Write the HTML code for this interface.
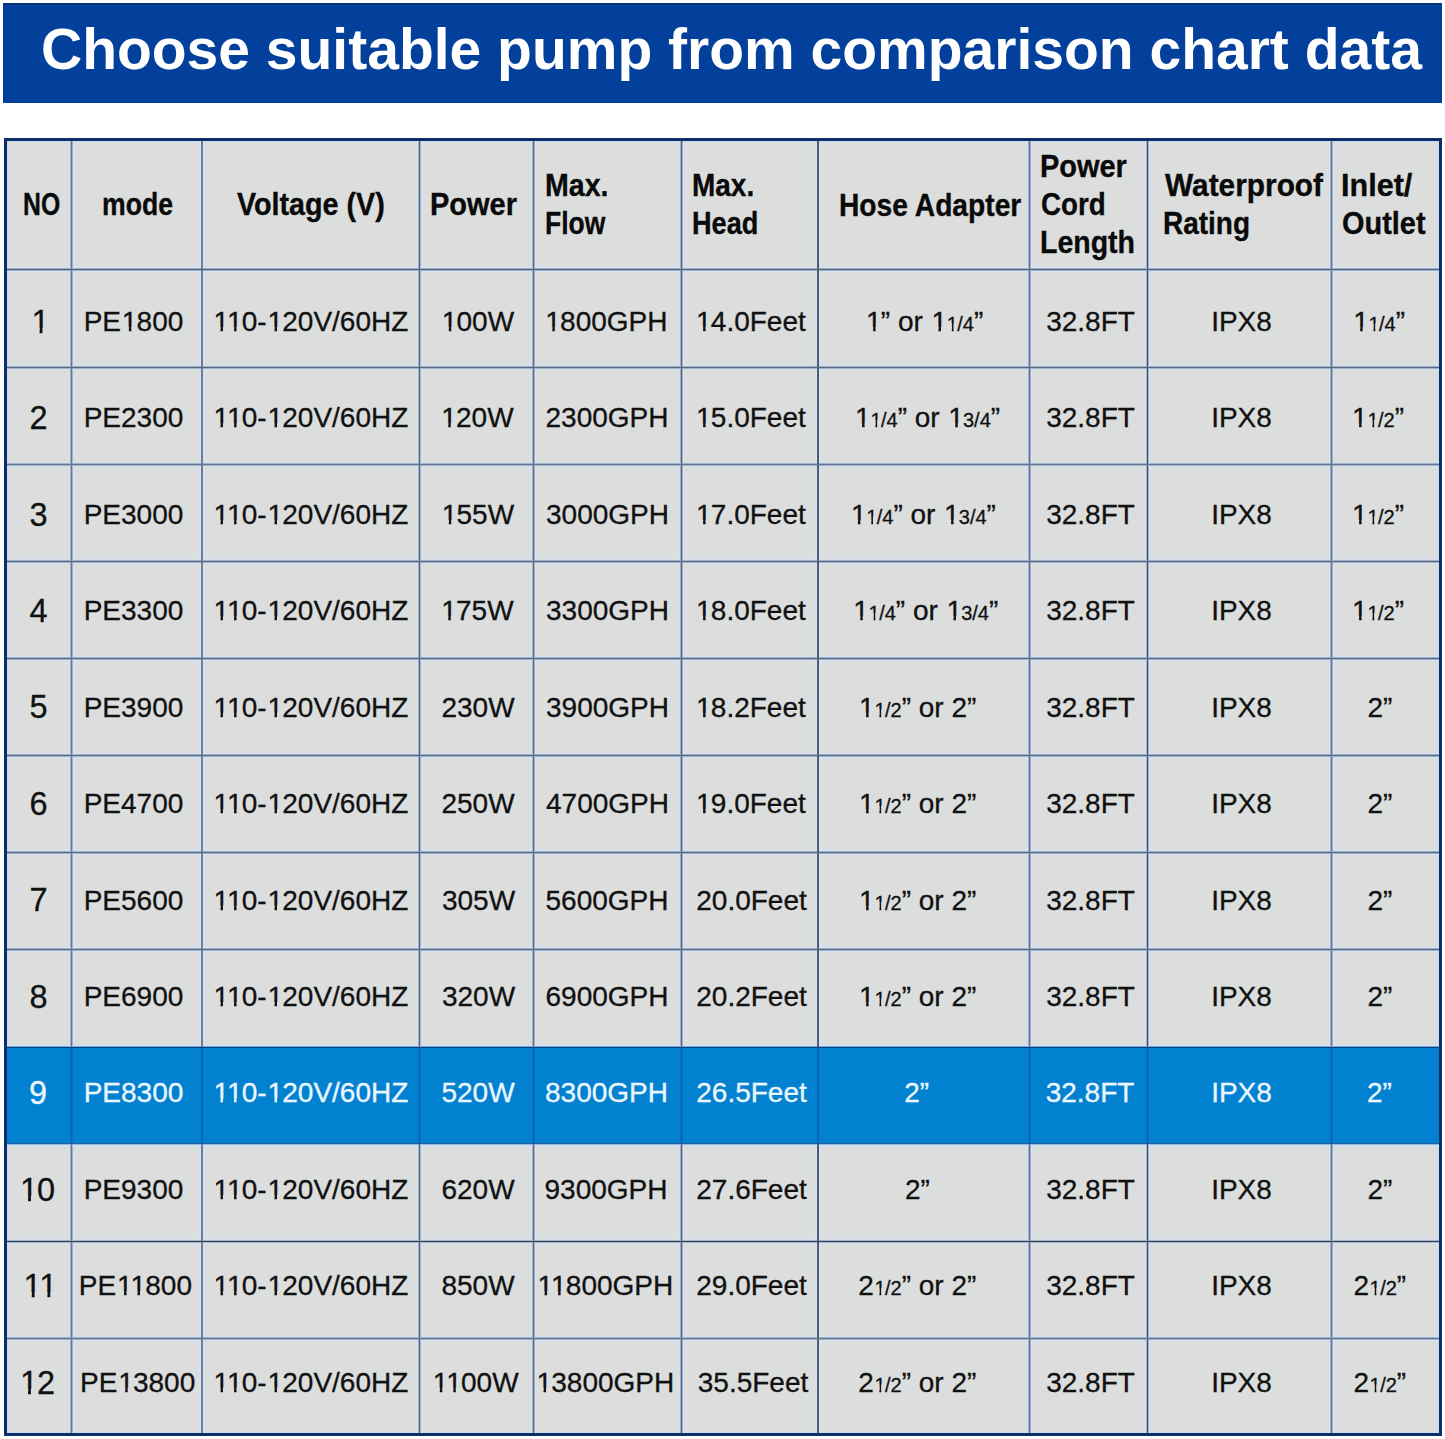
<!DOCTYPE html>
<html><head><meta charset="utf-8"><style>
html,body{margin:0;padding:0}
body{width:1445px;height:1439px;position:relative;overflow:hidden;background:#fefffe;font-family:"Liberation Sans",sans-serif}
.a{position:absolute}
.banner{left:3px;top:3px;width:1439px;height:100px;background:#03409c;box-shadow:inset 0 2px 0 #06337a,inset 1px 0 0 #0c3a80}
.title{left:0;width:1445px;top:16px;font-weight:bold;font-size:57px;line-height:66px;color:#fff;white-space:nowrap}
.tbl{left:4px;top:138px;width:1438px;height:1298px;background:#dcdedd;box-sizing:border-box;border:3px solid #0f2f69;box-shadow:inset 0 0 0 1px #c8dbf3}
.hl{background:#0381d1}
.vl{width:5px;background:linear-gradient(to right,#d3dfeb 0,#d3dfeb 1px,#9ba9bb 1px,#9ba9bb 2px,#5e6b80 2px,#5e6b80 3px,#a3b1c3 3px,#a3b1c3 4px,#dae5f1 4px)}
.hln{height:5px;background:linear-gradient(to bottom,#d3deea 0,#d3deea 1px,#a8b3c3 1px,#a8b3c3 2px,#56637a 2px,#56637a 3px,#a9b3c3 3px,#a9b3c3 4px,#d9e1ea 4px)}
.c{text-align:center;white-space:nowrap;font-size:28px;line-height:28px;color:#111;-webkit-text-stroke:0.3px #111}
.no{font-size:32.5px;line-height:32.5px}
.sm{font-size:20px}
.k{margin-right:-0.0742em}
.w{color:#eaf7ff;-webkit-text-stroke-color:#eaf7ff}
.o{display:inline-block;position:relative;left:0.03em;clip-path:polygon(0 0,100% 0,100% 0.68em,0.3398em 0.68em,0.3398em 100%,0.2515em 100%,0.2515em 0.68em,0 0.68em)}
.h{font-weight:bold;font-size:31.5px;line-height:31.5px;color:#0a0a0a;white-space:nowrap;transform-origin:0 0;-webkit-text-stroke:0.35px #0a0a0a}
</style></head><body>

<div class="a banner"></div>
<div class="a title"><span style="position:absolute;left:41px">Choose suitable pump from comparison chart data</span></div>
<div class="a tbl"></div>
<div class="a" style="left:7px;top:267px;width:1432px;height:5px;background:#d5e2f4"></div>
<div class="a" style="left:7px;top:365px;width:1432px;height:5px;background:#d5e2f4"></div>
<div class="a" style="left:7px;top:462px;width:1432px;height:5px;background:#d5e2f4"></div>
<div class="a" style="left:7px;top:559px;width:1432px;height:5px;background:#d5e2f4"></div>
<div class="a" style="left:7px;top:656px;width:1432px;height:5px;background:#d5e2f4"></div>
<div class="a" style="left:7px;top:753px;width:1432px;height:5px;background:#d5e2f4"></div>
<div class="a" style="left:7px;top:850px;width:1432px;height:5px;background:#d5e2f4"></div>
<div class="a" style="left:7px;top:947px;width:1432px;height:5px;background:#d5e2f4"></div>
<div class="a" style="left:7px;top:1239px;width:1432px;height:5px;background:#d5e2f4"></div>
<div class="a" style="left:7px;top:1336px;width:1432px;height:5px;background:#d5e2f4"></div>
<div class="a" style="left:69px;top:141px;width:5px;height:906px;background:#d5e2f4"></div>
<div class="a" style="left:69px;top:1144px;width:5px;height:289px;background:#d5e2f4"></div>
<div class="a" style="left:199px;top:141px;width:6px;height:906px;background:#d5e2f4"></div>
<div class="a" style="left:199px;top:1144px;width:6px;height:289px;background:#d5e2f4"></div>
<div class="a" style="left:417px;top:141px;width:5px;height:906px;background:#d5e2f4"></div>
<div class="a" style="left:417px;top:1144px;width:5px;height:289px;background:#d5e2f4"></div>
<div class="a" style="left:531px;top:141px;width:5px;height:906px;background:#d5e2f4"></div>
<div class="a" style="left:531px;top:1144px;width:5px;height:289px;background:#d5e2f4"></div>
<div class="a" style="left:679px;top:141px;width:5px;height:906px;background:#d5e2f4"></div>
<div class="a" style="left:679px;top:1144px;width:5px;height:289px;background:#d5e2f4"></div>
<div class="a" style="left:815px;top:141px;width:6px;height:906px;background:#d5e2f4"></div>
<div class="a" style="left:815px;top:1144px;width:6px;height:289px;background:#d5e2f4"></div>
<div class="a" style="left:1027px;top:141px;width:5px;height:906px;background:#d5e2f4"></div>
<div class="a" style="left:1027px;top:1144px;width:5px;height:289px;background:#d5e2f4"></div>
<div class="a" style="left:1145px;top:141px;width:5px;height:906px;background:#d5e2f4"></div>
<div class="a" style="left:1145px;top:1144px;width:5px;height:289px;background:#d5e2f4"></div>
<div class="a" style="left:1329px;top:141px;width:5px;height:906px;background:#d5e2f4"></div>
<div class="a" style="left:1329px;top:1144px;width:5px;height:289px;background:#d5e2f4"></div>
<div class="a" style="left:7px;top:268px;width:1432px;height:3px;background:#a2b1ca"></div>
<div class="a" style="left:7px;top:366px;width:1432px;height:3px;background:#a2b1ca"></div>
<div class="a" style="left:7px;top:463px;width:1432px;height:3px;background:#a2b1ca"></div>
<div class="a" style="left:7px;top:560px;width:1432px;height:3px;background:#a2b1ca"></div>
<div class="a" style="left:7px;top:657px;width:1432px;height:3px;background:#a2b1ca"></div>
<div class="a" style="left:7px;top:754px;width:1432px;height:3px;background:#a2b1ca"></div>
<div class="a" style="left:7px;top:851px;width:1432px;height:3px;background:#a2b1ca"></div>
<div class="a" style="left:7px;top:948px;width:1432px;height:3px;background:#a2b1ca"></div>
<div class="a" style="left:7px;top:1240px;width:1432px;height:3px;background:#a2b1ca"></div>
<div class="a" style="left:7px;top:1337px;width:1432px;height:3px;background:#a2b1ca"></div>
<div class="a" style="left:7px;top:1045px;width:1432px;height:1px;background:#cfe6f8"></div>
<div class="a" style="left:7px;top:1046px;width:1432px;height:1px;background:#7aa8d6"></div>
<div class="a" style="left:7px;top:1047px;width:1432px;height:1px;background:#05427f"></div>
<div class="a hl" style="left:7px;top:1048px;width:1432px;height:95px"></div>
<div class="a" style="left:7px;top:1143px;width:1432px;height:1px;background:#1f5f9c"></div>
<div class="a" style="left:7px;top:1144px;width:1432px;height:1px;background:#8fb9e0"></div>
<div class="a" style="left:7px;top:1145px;width:1432px;height:1px;background:#cfe3f5"></div>
<div class="a" style="left:70px;top:141px;width:3px;height:906px;background:linear-gradient(to right,#a2b1ca 0,#a2b1ca 1px,#6a788c 1px,#6a788c 2px,#a2b1ca 2px)"></div>
<div class="a" style="left:70px;top:1144px;width:3px;height:289px;background:linear-gradient(to right,#a2b1ca 0,#a2b1ca 1px,#6a788c 1px,#6a788c 2px,#a2b1ca 2px)"></div>
<div class="a" style="left:70px;top:1048px;width:3px;height:95px;background:linear-gradient(to right,#0572c8 0,#0572c8 1px,#0560b8 1px,#0560b8 2px,#0572c8 2px)"></div>
<div class="a" style="left:201px;top:141px;width:2px;height:906px;background:linear-gradient(to right,#6e7d8f 0,#6e7d8f 1px,#6e7d8f 1px)"></div>
<div class="a" style="left:201px;top:1144px;width:2px;height:289px;background:linear-gradient(to right,#6e7d8f 0,#6e7d8f 1px,#6e7d8f 1px)"></div>
<div class="a" style="left:201px;top:1048px;width:2px;height:95px;background:#0565bc"></div>
<div class="a" style="left:418px;top:141px;width:3px;height:906px;background:linear-gradient(to right,#a2b1ca 0,#a2b1ca 1px,#5a6878 1px,#5a6878 2px,#a2b1ca 2px)"></div>
<div class="a" style="left:418px;top:1144px;width:3px;height:289px;background:linear-gradient(to right,#a2b1ca 0,#a2b1ca 1px,#5a6878 1px,#5a6878 2px,#a2b1ca 2px)"></div>
<div class="a" style="left:418px;top:1048px;width:3px;height:95px;background:linear-gradient(to right,#0572c8 0,#0572c8 1px,#0560b8 1px,#0560b8 2px,#0572c8 2px)"></div>
<div class="a" style="left:532px;top:141px;width:3px;height:906px;background:linear-gradient(to right,#a2b1ca 0,#a2b1ca 1px,#5f6d7c 1px,#5f6d7c 2px,#a2b1ca 2px)"></div>
<div class="a" style="left:532px;top:1144px;width:3px;height:289px;background:linear-gradient(to right,#a2b1ca 0,#a2b1ca 1px,#5f6d7c 1px,#5f6d7c 2px,#a2b1ca 2px)"></div>
<div class="a" style="left:532px;top:1048px;width:3px;height:95px;background:linear-gradient(to right,#0572c8 0,#0572c8 1px,#0560b8 1px,#0560b8 2px,#0572c8 2px)"></div>
<div class="a" style="left:680px;top:141px;width:3px;height:906px;background:linear-gradient(to right,#a2b1ca 0,#a2b1ca 1px,#55617a 1px,#55617a 2px,#a2b1ca 2px)"></div>
<div class="a" style="left:680px;top:1144px;width:3px;height:289px;background:linear-gradient(to right,#a2b1ca 0,#a2b1ca 1px,#55617a 1px,#55617a 2px,#a2b1ca 2px)"></div>
<div class="a" style="left:680px;top:1048px;width:3px;height:95px;background:linear-gradient(to right,#0572c8 0,#0572c8 1px,#0560b8 1px,#0560b8 2px,#0572c8 2px)"></div>
<div class="a" style="left:817px;top:141px;width:2px;height:906px;background:linear-gradient(to right,#4e5c6e 0,#4e5c6e 1px,#4e5c6e 1px)"></div>
<div class="a" style="left:817px;top:1144px;width:2px;height:289px;background:linear-gradient(to right,#4e5c6e 0,#4e5c6e 1px,#4e5c6e 1px)"></div>
<div class="a" style="left:817px;top:1048px;width:2px;height:95px;background:#0565bc"></div>
<div class="a" style="left:1028px;top:141px;width:3px;height:906px;background:linear-gradient(to right,#a2b1ca 0,#a2b1ca 1px,#63728a 1px,#63728a 2px,#a2b1ca 2px)"></div>
<div class="a" style="left:1028px;top:1144px;width:3px;height:289px;background:linear-gradient(to right,#a2b1ca 0,#a2b1ca 1px,#63728a 1px,#63728a 2px,#a2b1ca 2px)"></div>
<div class="a" style="left:1028px;top:1048px;width:3px;height:95px;background:linear-gradient(to right,#0572c8 0,#0572c8 1px,#0560b8 1px,#0560b8 2px,#0572c8 2px)"></div>
<div class="a" style="left:1146px;top:141px;width:3px;height:906px;background:linear-gradient(to right,#a2b1ca 0,#a2b1ca 1px,#44526a 1px,#44526a 2px,#a2b1ca 2px)"></div>
<div class="a" style="left:1146px;top:1144px;width:3px;height:289px;background:linear-gradient(to right,#a2b1ca 0,#a2b1ca 1px,#44526a 1px,#44526a 2px,#a2b1ca 2px)"></div>
<div class="a" style="left:1146px;top:1048px;width:3px;height:95px;background:linear-gradient(to right,#0572c8 0,#0572c8 1px,#0560b8 1px,#0560b8 2px,#0572c8 2px)"></div>
<div class="a" style="left:1330px;top:141px;width:3px;height:906px;background:linear-gradient(to right,#a2b1ca 0,#a2b1ca 1px,#677588 1px,#677588 2px,#a2b1ca 2px)"></div>
<div class="a" style="left:1330px;top:1144px;width:3px;height:289px;background:linear-gradient(to right,#a2b1ca 0,#a2b1ca 1px,#677588 1px,#677588 2px,#a2b1ca 2px)"></div>
<div class="a" style="left:1330px;top:1048px;width:3px;height:95px;background:linear-gradient(to right,#0572c8 0,#0572c8 1px,#0560b8 1px,#0560b8 2px,#0572c8 2px)"></div>
<div class="a" style="left:7px;top:269px;width:1432px;height:1px;background:#556276"></div>
<div class="a" style="left:7px;top:367px;width:1432px;height:1px;background:#5a687e"></div>
<div class="a" style="left:7px;top:464px;width:1432px;height:1px;background:#66768e"></div>
<div class="a" style="left:7px;top:561px;width:1432px;height:1px;background:#5a687e"></div>
<div class="a" style="left:7px;top:658px;width:1432px;height:1px;background:#5a687e"></div>
<div class="a" style="left:7px;top:755px;width:1432px;height:1px;background:#5a687e"></div>
<div class="a" style="left:7px;top:852px;width:1432px;height:1px;background:#5a687e"></div>
<div class="a" style="left:7px;top:949px;width:1432px;height:1px;background:#5a6880"></div>
<div class="a" style="left:7px;top:1241px;width:1432px;height:1px;background:#3a4658"></div>
<div class="a" style="left:7px;top:1338px;width:1432px;height:1px;background:#6a788c"></div>
<div class="a h" style="left:22.83px;top:189.0px;transform:scaleX(0.7864)">NO</div>
<div class="a h" style="left:101.91px;top:189.0px;transform:scaleX(0.8444)">mode</div>
<div class="a h" style="left:237.00px;top:189.0px;transform:scaleX(0.9112)">Voltage (V)</div>
<div class="a h" style="left:430.16px;top:189.0px;transform:scaleX(0.9196)">Power</div>
<div class="a h" style="left:545.19px;top:170.3px;transform:scaleX(0.9061)">Max.</div>
<div class="a h" style="left:545.32px;top:208.3px;transform:scaleX(0.8400)">Flow</div>
<div class="a h" style="left:691.62px;top:170.3px;transform:scaleX(0.8879)">Max.</div>
<div class="a h" style="left:691.68px;top:208.3px;transform:scaleX(0.8616)">Head</div>
<div class="a h" style="left:838.51px;top:189.5px;transform:scaleX(0.8955)">Hose Adapter</div>
<div class="a h" style="left:1039.56px;top:151.2px;transform:scaleX(0.9185)">Power</div>
<div class="a h" style="left:1040.52px;top:188.5px;transform:scaleX(0.8800)">Cord</div>
<div class="a h" style="left:1039.59px;top:227.4px;transform:scaleX(0.9050)">Length</div>
<div class="a h" style="left:1164.50px;top:169.9px;transform:scaleX(0.9473)">Waterproof</div>
<div class="a h" style="left:1162.72px;top:208.3px;transform:scaleX(0.8883)">Rating</div>
<div class="a h" style="left:1341.36px;top:170.1px;transform:scaleX(0.9704)">Inlet/</div>
<div class="a h" style="left:1342.38px;top:207.9px;transform:scaleX(0.9178)">Outlet</div>
<div class="a c no" style="left:-110.50px;width:300px;top:305.6px"><span class="o">1</span></div>
<div class="a c" style="left:-16.50px;width:300px;top:307.8px">PE<span class="o">1</span>800</div>
<div class="a c" style="left:160.50px;width:300px;top:307.8px"><span class="o k">1</span><span class="o">1</span>0-<span class="o">1</span>20V/60HZ</div>
<div class="a c" style="left:327.50px;width:300px;top:307.8px"><span class="o">1</span>00W</div>
<div class="a c" style="left:456.00px;width:300px;top:307.8px"><span class="o">1</span>800GPH</div>
<div class="a c" style="left:600.50px;width:300px;top:307.8px"><span class="o">1</span>4.0Feet</div>
<div class="a c" style="left:774.30px;width:300px;top:307.8px"><span class="o">1</span>&#8221; or <span class="o">1</span><span class="sm"><span class="o">1</span>/4</span>&#8221;</div>
<div class="a c" style="left:940.50px;width:300px;top:307.8px">32.8FT</div>
<div class="a c" style="left:1091.50px;width:300px;top:307.8px">IPX8</div>
<div class="a c" style="left:1228.70px;width:300px;top:307.8px"><span class="o">1</span><span class="sm"><span class="o">1</span>/4</span>&#8221;</div>
<div class="a c no" style="left:-111.50px;width:300px;top:402.1px">2</div>
<div class="a c" style="left:-16.50px;width:300px;top:404.3px">PE2300</div>
<div class="a c" style="left:160.50px;width:300px;top:404.3px"><span class="o k">1</span><span class="o">1</span>0-<span class="o">1</span>20V/60HZ</div>
<div class="a c" style="left:327.00px;width:300px;top:404.3px"><span class="o">1</span>20W</div>
<div class="a c" style="left:457.00px;width:300px;top:404.3px">2300GPH</div>
<div class="a c" style="left:600.50px;width:300px;top:404.3px"><span class="o">1</span>5.0Feet</div>
<div class="a c" style="left:777.20px;width:300px;top:404.3px"><span class="o">1</span><span class="sm"><span class="o">1</span>/4</span>&#8221; or <span class="o">1</span><span class="sm">3/4</span>&#8221;</div>
<div class="a c" style="left:940.50px;width:300px;top:404.3px">32.8FT</div>
<div class="a c" style="left:1091.50px;width:300px;top:404.3px">IPX8</div>
<div class="a c" style="left:1227.60px;width:300px;top:404.3px"><span class="o">1</span><span class="sm"><span class="o">1</span>/2</span>&#8221;</div>
<div class="a c no" style="left:-111.50px;width:300px;top:498.5px">3</div>
<div class="a c" style="left:-16.50px;width:300px;top:500.7px">PE3000</div>
<div class="a c" style="left:160.50px;width:300px;top:500.7px"><span class="o k">1</span><span class="o">1</span>0-<span class="o">1</span>20V/60HZ</div>
<div class="a c" style="left:327.50px;width:300px;top:500.7px"><span class="o">1</span>55W</div>
<div class="a c" style="left:457.50px;width:300px;top:500.7px">3000GPH</div>
<div class="a c" style="left:600.50px;width:300px;top:500.7px"><span class="o">1</span>7.0Feet</div>
<div class="a c" style="left:773.00px;width:300px;top:500.7px"><span class="o">1</span><span class="sm"><span class="o">1</span>/4</span>&#8221; or <span class="o">1</span><span class="sm">3/4</span>&#8221;</div>
<div class="a c" style="left:940.50px;width:300px;top:500.7px">32.8FT</div>
<div class="a c" style="left:1091.50px;width:300px;top:500.7px">IPX8</div>
<div class="a c" style="left:1227.60px;width:300px;top:500.7px"><span class="o">1</span><span class="sm"><span class="o">1</span>/2</span>&#8221;</div>
<div class="a c no" style="left:-111.50px;width:300px;top:595.0px">4</div>
<div class="a c" style="left:-16.50px;width:300px;top:597.2px">PE3300</div>
<div class="a c" style="left:160.50px;width:300px;top:597.2px"><span class="o k">1</span><span class="o">1</span>0-<span class="o">1</span>20V/60HZ</div>
<div class="a c" style="left:327.00px;width:300px;top:597.2px"><span class="o">1</span>75W</div>
<div class="a c" style="left:457.50px;width:300px;top:597.2px">3300GPH</div>
<div class="a c" style="left:600.50px;width:300px;top:597.2px"><span class="o">1</span>8.0Feet</div>
<div class="a c" style="left:775.40px;width:300px;top:597.2px"><span class="o">1</span><span class="sm"><span class="o">1</span>/4</span>&#8221; or <span class="o">1</span><span class="sm">3/4</span>&#8221;</div>
<div class="a c" style="left:940.50px;width:300px;top:597.2px">32.8FT</div>
<div class="a c" style="left:1091.50px;width:300px;top:597.2px">IPX8</div>
<div class="a c" style="left:1227.60px;width:300px;top:597.2px"><span class="o">1</span><span class="sm"><span class="o">1</span>/2</span>&#8221;</div>
<div class="a c no" style="left:-111.50px;width:300px;top:691.4px">5</div>
<div class="a c" style="left:-16.50px;width:300px;top:693.6px">PE3900</div>
<div class="a c" style="left:160.50px;width:300px;top:693.6px"><span class="o k">1</span><span class="o">1</span>0-<span class="o">1</span>20V/60HZ</div>
<div class="a c" style="left:328.00px;width:300px;top:693.6px">230W</div>
<div class="a c" style="left:457.50px;width:300px;top:693.6px">3900GPH</div>
<div class="a c" style="left:600.50px;width:300px;top:693.6px"><span class="o">1</span>8.2Feet</div>
<div class="a c" style="left:767.30px;width:300px;top:693.6px"><span class="o">1</span><span class="sm"><span class="o">1</span>/2</span>&#8221; or 2&#8221;</div>
<div class="a c" style="left:940.50px;width:300px;top:693.6px">32.8FT</div>
<div class="a c" style="left:1091.50px;width:300px;top:693.6px">IPX8</div>
<div class="a c" style="left:1229.90px;width:300px;top:693.6px">2&#8221;</div>
<div class="a c no" style="left:-111.50px;width:300px;top:787.9px">6</div>
<div class="a c" style="left:-16.50px;width:300px;top:790.1px">PE4700</div>
<div class="a c" style="left:160.50px;width:300px;top:790.1px"><span class="o k">1</span><span class="o">1</span>0-<span class="o">1</span>20V/60HZ</div>
<div class="a c" style="left:328.00px;width:300px;top:790.1px">250W</div>
<div class="a c" style="left:457.50px;width:300px;top:790.1px">4700GPH</div>
<div class="a c" style="left:600.50px;width:300px;top:790.1px"><span class="o">1</span>9.0Feet</div>
<div class="a c" style="left:767.30px;width:300px;top:790.1px"><span class="o">1</span><span class="sm"><span class="o">1</span>/2</span>&#8221; or 2&#8221;</div>
<div class="a c" style="left:940.50px;width:300px;top:790.1px">32.8FT</div>
<div class="a c" style="left:1091.50px;width:300px;top:790.1px">IPX8</div>
<div class="a c" style="left:1229.90px;width:300px;top:790.1px">2&#8221;</div>
<div class="a c no" style="left:-111.50px;width:300px;top:884.3px">7</div>
<div class="a c" style="left:-16.50px;width:300px;top:886.5px">PE5600</div>
<div class="a c" style="left:160.50px;width:300px;top:886.5px"><span class="o k">1</span><span class="o">1</span>0-<span class="o">1</span>20V/60HZ</div>
<div class="a c" style="left:328.50px;width:300px;top:886.5px">305W</div>
<div class="a c" style="left:457.00px;width:300px;top:886.5px">5600GPH</div>
<div class="a c" style="left:601.50px;width:300px;top:886.5px">20.0Feet</div>
<div class="a c" style="left:767.30px;width:300px;top:886.5px"><span class="o">1</span><span class="sm"><span class="o">1</span>/2</span>&#8221; or 2&#8221;</div>
<div class="a c" style="left:940.50px;width:300px;top:886.5px">32.8FT</div>
<div class="a c" style="left:1091.50px;width:300px;top:886.5px">IPX8</div>
<div class="a c" style="left:1229.90px;width:300px;top:886.5px">2&#8221;</div>
<div class="a c no" style="left:-111.50px;width:300px;top:980.8px">8</div>
<div class="a c" style="left:-16.50px;width:300px;top:983.0px">PE6900</div>
<div class="a c" style="left:160.50px;width:300px;top:983.0px"><span class="o k">1</span><span class="o">1</span>0-<span class="o">1</span>20V/60HZ</div>
<div class="a c" style="left:328.50px;width:300px;top:983.0px">320W</div>
<div class="a c" style="left:457.00px;width:300px;top:983.0px">6900GPH</div>
<div class="a c" style="left:601.50px;width:300px;top:983.0px">20.2Feet</div>
<div class="a c" style="left:767.30px;width:300px;top:983.0px"><span class="o">1</span><span class="sm"><span class="o">1</span>/2</span>&#8221; or 2&#8221;</div>
<div class="a c" style="left:940.50px;width:300px;top:983.0px">32.8FT</div>
<div class="a c" style="left:1091.50px;width:300px;top:983.0px">IPX8</div>
<div class="a c" style="left:1229.90px;width:300px;top:983.0px">2&#8221;</div>
<div class="a c no w" style="left:-112.00px;width:300px;top:1077.2px">9</div>
<div class="a c w" style="left:-16.50px;width:300px;top:1079.4px">PE8300</div>
<div class="a c w" style="left:160.50px;width:300px;top:1079.4px"><span class="o k">1</span><span class="o">1</span>0-<span class="o">1</span>20V/60HZ</div>
<div class="a c w" style="left:328.00px;width:300px;top:1079.4px">520W</div>
<div class="a c w" style="left:456.50px;width:300px;top:1079.4px">8300GPH</div>
<div class="a c w" style="left:601.50px;width:300px;top:1079.4px">26.5Feet</div>
<div class="a c w" style="left:766.70px;width:300px;top:1079.4px">2&#8221;</div>
<div class="a c w" style="left:940.00px;width:300px;top:1079.4px">32.8FT</div>
<div class="a c w" style="left:1091.50px;width:300px;top:1079.4px">IPX8</div>
<div class="a c w" style="left:1229.40px;width:300px;top:1079.4px">2&#8221;</div>
<div class="a c no" style="left:-113.00px;width:300px;top:1173.7px"><span class="o">1</span>0</div>
<div class="a c" style="left:-16.50px;width:300px;top:1175.9px">PE9300</div>
<div class="a c" style="left:160.50px;width:300px;top:1175.9px"><span class="o k">1</span><span class="o">1</span>0-<span class="o">1</span>20V/60HZ</div>
<div class="a c" style="left:328.00px;width:300px;top:1175.9px">620W</div>
<div class="a c" style="left:456.00px;width:300px;top:1175.9px">9300GPH</div>
<div class="a c" style="left:601.50px;width:300px;top:1175.9px">27.6Feet</div>
<div class="a c" style="left:767.50px;width:300px;top:1175.9px">2&#8221;</div>
<div class="a c" style="left:940.50px;width:300px;top:1175.9px">32.8FT</div>
<div class="a c" style="left:1091.50px;width:300px;top:1175.9px">IPX8</div>
<div class="a c" style="left:1229.90px;width:300px;top:1175.9px">2&#8221;</div>
<div class="a c no" style="left:-110.50px;width:300px;top:1270.1px"><span class="o k">1</span><span class="o">1</span></div>
<div class="a c" style="left:-14.60px;width:300px;top:1272.3px">PE<span class="o k">1</span><span class="o">1</span>800</div>
<div class="a c" style="left:160.50px;width:300px;top:1272.3px"><span class="o k">1</span><span class="o">1</span>0-<span class="o">1</span>20V/60HZ</div>
<div class="a c" style="left:328.00px;width:300px;top:1272.3px">850W</div>
<div class="a c" style="left:455.00px;width:300px;top:1272.3px"><span class="o k">1</span><span class="o">1</span>800GPH</div>
<div class="a c" style="left:601.50px;width:300px;top:1272.3px">29.0Feet</div>
<div class="a c" style="left:767.30px;width:300px;top:1272.3px">2<span class="sm"><span class="o">1</span>/2</span>&#8221; or 2&#8221;</div>
<div class="a c" style="left:940.50px;width:300px;top:1272.3px">32.8FT</div>
<div class="a c" style="left:1091.50px;width:300px;top:1272.3px">IPX8</div>
<div class="a c" style="left:1229.80px;width:300px;top:1272.3px">2<span class="sm"><span class="o">1</span>/2</span>&#8221;</div>
<div class="a c no" style="left:-113.00px;width:300px;top:1366.6px"><span class="o">1</span>2</div>
<div class="a c" style="left:-12.40px;width:300px;top:1368.8px">PE<span class="o">1</span>3800</div>
<div class="a c" style="left:160.50px;width:300px;top:1368.8px"><span class="o k">1</span><span class="o">1</span>0-<span class="o">1</span>20V/60HZ</div>
<div class="a c" style="left:325.30px;width:300px;top:1368.8px"><span class="o k">1</span><span class="o">1</span>00W</div>
<div class="a c" style="left:455.00px;width:300px;top:1368.8px"><span class="o">1</span>3800GPH</div>
<div class="a c" style="left:603.00px;width:300px;top:1368.8px">35.5Feet</div>
<div class="a c" style="left:767.30px;width:300px;top:1368.8px">2<span class="sm"><span class="o">1</span>/2</span>&#8221; or 2&#8221;</div>
<div class="a c" style="left:940.50px;width:300px;top:1368.8px">32.8FT</div>
<div class="a c" style="left:1091.50px;width:300px;top:1368.8px">IPX8</div>
<div class="a c" style="left:1229.80px;width:300px;top:1368.8px">2<span class="sm"><span class="o">1</span>/2</span>&#8221;</div>
</body></html>
